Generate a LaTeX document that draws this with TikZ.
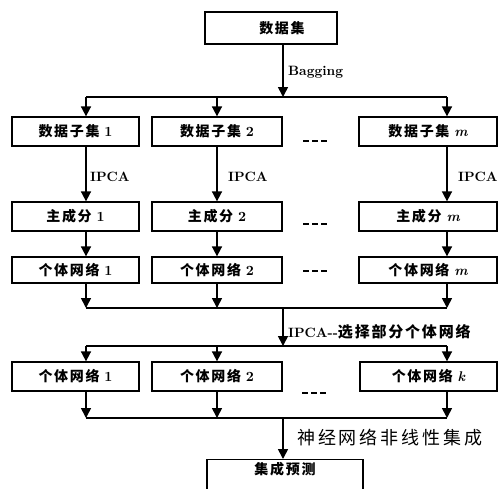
\documentclass[tikz,border=0pt]{standalone}
\usepackage{fontspec}
\newfontfamily\cjk[LetterSpace=12]{Noto Sans CJK SC}
\newfontfamily\cjkbig[LetterSpace=16]{Noto Sans CJK SC}
\newfontfamily\latb{lmroman10-bold}[Extension=.otf]
\newfontfamily\latbi{lmroman10-bolditalic}[Extension=.otf]
\usetikzlibrary{arrows.meta,calc}
\newcommand\lat[1]{{\latb #1}}
\newcommand\ital[1]{{\latbi #1}}
\tikzset{
  box/.style={draw, line width=1.3pt, inner sep=0pt, font=\cjk\bfseries\fontsize{14}{14}\selectfont},
  conn/.style={line width=1.7pt},
  arr/.style={line width=1.7pt, -{Triangle[length=10pt,width=10pt]}},
  lbl/.style={anchor=west, inner sep=0pt, font=\latb\fontsize{13.5}{13.5}\selectfont},
  dots/.style={line width=2.6pt, dash pattern=on 6pt off 3pt}
}
\begin{document}
\begin{tikzpicture}[x=1pt,y=-1pt]
\clip (0,0) rectangle (501,488);
\fill[white] (0,0) rectangle (501,488);
% top
\node[box, minimum width=132pt, minimum height=32pt] (top) at (271,28) {\hspace*{22pt}数据集};
% row 1
\node[box, minimum width=127pt, minimum height=29pt] (d1) at (75.5,131.5) {数据子集 \lat{1}};
\node[box, minimum width=130pt, minimum height=29pt] (d2) at (217,131.5) {数据子集 \lat{2}};
\node[box, minimum width=138pt, minimum height=29pt] (dm) at (428,131.5) {数据子集 \ital{m}};
% row 2
\node[box, minimum width=127pt, minimum height=29pt] (p1) at (75.5,216.5) {主成分 \lat{1}};
\node[box, minimum width=130pt, minimum height=29pt] (p2) at (217,216.5) {主成分 \lat{2}};
\node[box, minimum width=138pt, minimum height=29pt] (pm) at (428,216.5) {主成分 \ital{m}};
% row 3
\node[box, minimum width=127pt, minimum height=26pt] (n1) at (75.5,270) {个体网络 \lat{1}};
\node[box, minimum width=130pt, minimum height=26pt] (n2) at (217,270) {个体网络 \lat{2}};
\node[box, minimum width=138pt, minimum height=26pt] (nm) at (428,270) {个体网络 \ital{m}};
% row 4
\node[box, minimum width=127pt, minimum height=29pt] (s1) at (75.5,376.5) {个体网络 \lat{1}};
\node[box, minimum width=130pt, minimum height=29pt] (s2) at (217,376.5) {个体网络 \lat{2}};
\node[box, minimum width=137pt, minimum height=29pt] (sk) at (428.5,376.5) {个体网络 \ital{k}};
% final
\node[box, anchor=north, minimum width=156pt, text height=12pt, text depth=26pt, inner ysep=3pt] (fin) at (285,459) {集成预测};

% column coordinates
\coordinate (xa) at (86,0);
\coordinate (xb) at (217,0);
\coordinate (xc) at (447,0);
\coordinate (xm) at (283,0);
% horizontal bus lines
\coordinate (h1a) at (86,97);  \coordinate (h1c) at (447,97);  \coordinate (h1m) at (283,97);
\coordinate (h2a) at (86,308); \coordinate (h2c) at (447,308); \coordinate (h2m) at (283,308);
\coordinate (h3a) at (86,346); \coordinate (h3c) at (447,346); \coordinate (h3m) at (283,346);
\coordinate (h4a) at (86,418); \coordinate (h4c) at (447,418); \coordinate (h4m) at (283,418);

% top to bus 1
\draw[arr] (top.south -| xm) -- (h1m);
\node[lbl] (bag) at (288,72) {Bagging};
\draw[conn] (h1a) -- (h1c);
\draw[arr] (h1a) -- (d1.north -| xa);
\draw[arr] (h1m -| xb) -- (d2.north -| xb);
\draw[arr] (h1c) -- (dm.north -| xc);
% IPCA
\draw[arr] (d1.south -| xa) -- (p1.north -| xa);
\draw[arr] (d2.south -| xb) -- (p2.north -| xb);
\draw[arr] (dm.south -| xc) -- (pm.north -| xc);
\node[lbl] (ip1) at (90,177) {IPCA};
\node[lbl] (ip2) at (228,177) {IPCA};
\node[lbl] (ipm) at (458,177) {IPCA};
% to row 3
\draw[arr] (p1.south -| xa) -- (n1.north -| xa);
\draw[arr] (p2.south -| xb) -- (n2.north -| xb);
\draw[arr] (pm.south -| xc) -- (nm.north -| xc);
% to bus 2
\draw[arr] (n1.south -| xa) -- (h2a);
\draw[arr] (n2.south -| xb) -- (h2m -| xb);
\draw[arr] (nm.south -| xc) -- (h2c);
\draw[conn] (h2a) -- (h2c);
\draw[arr] (h2m) -- (h3m);
\node[lbl] (sel) at (288,332) {IPCA-{}-{\cjk\bfseries\fontsize{15}{15}\selectfont 选择部分个体网络}};
\draw[conn] (h3a) -- (h3c);
\draw[arr] (h3a) -- (s1.north -| xa);
\draw[arr] (h3m -| xb) -- (s2.north -| xb);
\draw[arr] (h3c) -- (sk.north -| xc);
% to bus 4
\draw[arr] (s1.south -| xa) -- (h4a);
\draw[arr] (s2.south -| xb) -- (h4m -| xb);
\draw[arr] (sk.south -| xc) -- (h4c);
\draw[conn] (h4a) -- (h4c);
\draw[arr] (h4m) -- (fin.north -| xm);
\node[anchor=west, inner sep=0pt, font=\cjkbig\fontsize{18}{18}\selectfont] (nl) at (297,438) {神经网络非线性集成};

% ellipsis marks
\draw[dots] (303,141) -- (328,141);
\draw[dots] (303,224) -- (328,224);
\draw[dots] (303,271) -- (328,271);
\draw[dots] (302,393) -- (326,393);
\end{tikzpicture}
\end{document}
